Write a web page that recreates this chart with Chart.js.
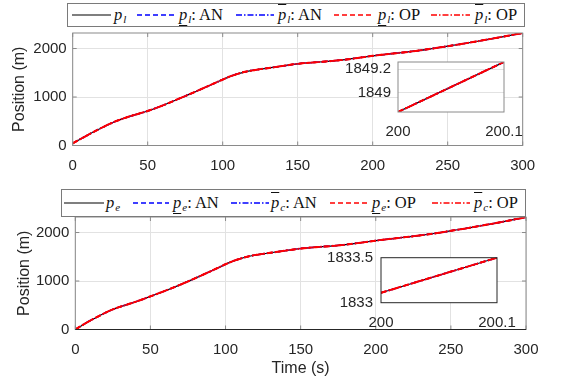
<!DOCTYPE html>
<html>
<head>
<meta charset="utf-8">
<script src="https://cdn.jsdelivr.net/npm/chart.js@4.4.1/dist/chart.umd.min.js"></script>
<style>
  body { margin: 0; background: #fff; width: 581px; height: 386px; position: relative; overflow: hidden; }
  canvas { position: absolute; }
  .legend { position: absolute; background: #fff; border: 1px solid #7a7a7a; box-sizing: border-box; z-index: 5; }
  .item { position: absolute; top: 0; height: 100%; display: flex; align-items: center; font-family: "Liberation Serif", "Times New Roman", serif; font-size: 16.5px; color: #111; white-space: nowrap; }
  .item sub { font-size: 11px; vertical-align: -3px; line-height: 0; margin-left: 1px; }
  .ul { text-decoration: underline; text-underline-offset: 5px; text-decoration-thickness: 1px; }
  .ol { text-decoration: overline; text-decoration-thickness: 1px; }
  .sample { position: absolute; top: 0; height: 100%; }
</style>
</head>
<body>
<div id="legendTop" class="legend" style="left:67px;top:3px;width:458px;height:24px"></div>
<div id="legendBottom" class="legend" style="left:61px;top:189px;width:465px;height:28px"></div>
<canvas id="topChart" width="581" height="185" style="left:0;top:0"></canvas>
<canvas id="bottomChart" width="581" height="196" style="left:0;top:190px"></canvas>
<canvas id="topInset" width="200" height="113" style="left:330px;top:42px;z-index:3"></canvas>
<canvas id="bottomInset" width="220" height="107" style="left:310px;top:238px;z-index:3"></canvas>
<script>
// data
const times = [0, 5, 10, 15, 20, 25, 30, 35, 40, 45, 50, 60, 70, 80, 90, 95, 100, 105, 110, 115, 120, 125,
  130, 140, 150, 160, 170, 180, 190, 200, 210, 220, 230, 240, 250, 260, 270, 280, 290, 300];
const posLeader = [45, 130, 215, 298, 375, 450, 515, 570, 620, 665, 712, 825, 955, 1085, 1222, 1290, 1360, 1425, 1478, 1520, 1550, 1573,
  1595, 1640, 1685, 1712, 1735, 1765, 1805, 1849, 1885, 1918, 1955, 2000, 2048, 2098, 2150, 2205, 2262, 2320];
const posEgo = [0, 95, 185, 265, 345, 415, 470, 520, 570, 625, 683, 800, 925, 1060, 1200, 1272, 1345, 1410, 1463, 1505, 1537, 1560,
  1583, 1627, 1670, 1698, 1720, 1750, 1790, 1833, 1870, 1905, 1942, 1985, 2035, 2085, 2140, 2195, 2255, 2315];
const xTicks = [0, 50, 100, 150, 200, 250, 300];
const yTicks = [0, 1000, 2000];

const insetTimes = [200, 200.1];
const insetLeader = [1848.84, 1849.26];
const insetEgo = [1833.11, 1833.5];
const insetLeaderTicks = [1849, 1849.2];
const insetEgoTicks = [1833, 1833.5];

const legendLeader = ['<i>p</i><sub><i>l</i></sub>',
  '<span class="ul"><i>p</i></span><sub><i>l</i></sub>: AN',
  '<span class="ol"><i>p</i></span><sub><i>l</i></sub>: AN',
  '<span class="ul"><i>p</i></span><sub><i>l</i></sub>: OP',
  '<span class="ol"><i>p</i></span><sub><i>l</i></sub>: OP'];
const legendEgo = ['<i>p</i><sub><i>e</i></sub>',
  '<span class="ul"><i>p</i></span><sub><i>e</i></sub>: AN',
  '<span class="ol"><i>p</i></span><sub><i>c</i></sub>: AN',
  '<span class="ul"><i>p</i></span><sub><i>e</i></sub>: OP',
  '<span class="ol"><i>p</i></span><sub><i>c</i></sub>: OP'];

const styles = [
  { color: '#000000', dash: [], width: 1.2, order: 5 },
  { color: '#0000ff', dash: [5, 3], width: 1.5, order: 4 },
  { color: '#0000ff', dash: [6, 2, 1.5, 2], width: 1.5, order: 3 },
  { color: '#ff0000', dash: [5, 3], width: 1.8, order: 2 },
  { color: '#ff0000', dash: [6, 2, 1.5, 2], width: 2, order: 1 }
];

function makeDatasets(xs, ys) {
  return styles.map(s => ({
    data: xs.map((x, i) => ({ x: x, y: ys[i] })),
    borderColor: s.color,
    borderDash: s.dash,
    borderWidth: s.width,
    pointRadius: 0,
    cubicInterpolationMode: 'monotone',
    order: s.order
  }));
}

function fmt(v) { return String(+Number(v).toFixed(1)); }

// legend boxes
function buildLegend(id, labels, samples, textX) {
  const box = document.getElementById(id);
  const h = box.clientHeight;
  labels.forEach((lab, i) => {
    const s = styles[i];
    const [x1, x2] = samples[i];
    const svg = document.createElementNS('http://www.w3.org/2000/svg', 'svg');
    svg.setAttribute('class', 'sample');
    svg.setAttribute('width', x2 - x1);
    svg.setAttribute('height', h);
    svg.style.left = x1 + 'px';
    const line = document.createElementNS('http://www.w3.org/2000/svg', 'line');
    line.setAttribute('x1', 0); line.setAttribute('x2', x2 - x1);
    line.setAttribute('y1', h / 2); line.setAttribute('y2', h / 2);
    line.setAttribute('stroke', s.color);
    line.setAttribute('stroke-width', Math.min(s.width, 1.5));
    if (s.dash.length) line.setAttribute('stroke-dasharray', s.dash.join(' '));
    svg.appendChild(line);
    box.appendChild(svg);
    const t = document.createElement('div');
    t.className = 'item';
    t.style.left = textX[i] + 'px';
    t.innerHTML = '<span>' + lab + '</span>';
    box.appendChild(t);
  });
}
buildLegend('legendTop', legendLeader,
  [[4, 43], [69, 108], [168, 206], [266, 305], [363, 402]], [46, 111, 210, 310, 407]);
buildLegend('legendBottom', legendEgo,
  [[2, 42], [71, 107], [169, 207], [268, 306], [370, 408]], [44, 111, 209, 310, 412]);

// axes box with inward ticks, drawn on top like matlab
function framePlugin(o) {
  return {
    id: 'frame',
    beforeDraw(chart) {
      if (!o.fill) return;
      const a = chart.chartArea, ctx = chart.ctx;
      ctx.save(); ctx.fillStyle = '#fff';
      ctx.fillRect(a.left, a.top, a.right - a.left, a.bottom - a.top);
      ctx.restore();
    },
    afterDraw(chart) {
      const a = chart.chartArea, ctx = chart.ctx;
      const xs = chart.scales.x, ys = chart.scales.y;
      ctx.save();
      ctx.lineWidth = 1;
      ctx.strokeStyle = o.color;
      ctx.beginPath();
      xs.ticks.forEach(t => {
        const px = xs.getPixelForValue(t.value);
        ctx.moveTo(px, a.bottom); ctx.lineTo(px, a.bottom - o.tick);
        ctx.moveTo(px, a.top); ctx.lineTo(px, a.top + o.tick);
      });
      ys.ticks.forEach(t => {
        const py = ys.getPixelForValue(t.value);
        ctx.moveTo(a.left, py); ctx.lineTo(a.left + o.tick, py);
        ctx.moveTo(a.right, py); ctx.lineTo(a.right - o.tick, py);
      });
      ctx.stroke();
      ctx.strokeRect(a.left, a.top, a.right - a.left, a.bottom - a.top);
      if (o.bottomColor) {
        ctx.strokeStyle = o.bottomColor;
        ctx.beginPath(); ctx.moveTo(a.left, a.bottom); ctx.lineTo(a.right, a.bottom); ctx.stroke();
      }
      ctx.restore();
    }
  };
}

const tickFont = { family: '"Liberation Sans", Arial, sans-serif', size: 15 };
const titleFont = { family: '"Liberation Sans", Arial, sans-serif', size: 16 };

function mainChart(id, ys, box) {
  return new Chart(document.getElementById(id), {
    type: 'line',
    data: { datasets: makeDatasets(times, ys) },
    options: {
      responsive: false,
      animation: false,
      devicePixelRatio: 1,
      layout: { padding: { left: 0, top: box.top, right: box.right, bottom: 0 } },
      plugins: { legend: { display: false }, tooltip: { enabled: false } },
      scales: {
        x: {
          type: 'linear', min: 0, max: 300,
          afterBuildTicks: s => { s.ticks = xTicks.map(v => ({ value: v })); },
          afterFit: s => { s.height = box.xh; },
          grid: { color: '#e2e2e2', drawTicks: false },
          border: { display: false },
          ticks: { font: tickFont, color: '#262626', padding: box.xpad, maxRotation: 0, callback: fmt },
          title: { display: !!box.xtitle, text: box.xtitle, font: titleFont, color: '#262626', padding: { top: 0, bottom: 8 } }
        },
        y: {
          type: 'linear', min: 0, max: 2320,
          afterBuildTicks: s => { s.ticks = yTicks.map(v => ({ value: v })); },
          afterFit: s => { s.width = box.left; },
          grid: { color: '#e2e2e2', drawTicks: false },
          border: { display: false },
          ticks: { font: tickFont, color: '#262626', padding: 6, callback: fmt },
          title: { display: true, text: 'Position (m)', font: titleFont, color: '#262626', padding: { top: box.ytpad, bottom: 0 } }
        }
      }
    },
    plugins: [framePlugin({ color: '#8a8a8a', bottomColor: box.bottomColor, tick: 4 })]
  });
}

mainChart('topChart', posLeader, { top: 33, right: 58.3, left: 72.7, xh: 39.5, xpad: 11, ytpad: 10 });
mainChart('bottomChart', posEgo, { top: 27, right: 55, left: 75.3, xh: 56.5, xpad: 11, ytpad: 14.5, xtitle: 'Time (s)', bottomColor: '#262626' });

function insetChart(id, ys, yt, box) {
  return new Chart(document.getElementById(id), {
    type: 'line',
    data: { datasets: makeDatasets(insetTimes, ys) },
    options: {
      responsive: false,
      animation: false,
      devicePixelRatio: 1,
      layout: { padding: { left: 0, top: box.top, right: box.right, bottom: 0 } },
      plugins: { legend: { display: false }, tooltip: { enabled: false } },
      scales: {
        x: {
          type: 'linear', min: insetTimes[0], max: insetTimes[1],
          afterBuildTicks: s => { s.ticks = insetTimes.map(v => ({ value: v })); },
          afterFit: s => { s.height = box.xh; },
          grid: { display: false },
          border: { display: false },
          ticks: { font: tickFont, color: '#262626', padding: box.xpad, maxRotation: 0, autoSkip: false, callback: fmt }
        },
        y: {
          type: 'linear', min: box.ymin, max: box.ymax,
          afterBuildTicks: s => { s.ticks = yt.map(v => ({ value: v })); },
          afterFit: s => { s.width = box.left; },
          grid: { display: box.grid, color: '#e2e2e2', drawTicks: false },
          border: { display: false },
          ticks: { font: tickFont, color: '#262626', padding: box.ypad, callback: fmt }
        }
      }
    },
    plugins: [framePlugin({ color: box.frame, tick: 0, fill: true })]
  });
}

insetChart('topInset', insetLeader, insetLeaderTicks,
  { top: 20, right: 26, left: 68, xh: 43, xpad: 3, ypad: 7, ymin: 1848.84, ymax: 1849.26, grid: true, frame: '#8a8a8a' });
insetChart('bottomInset', insetEgo, insetEgoTicks,
  { top: 19.7, right: 33, left: 71, xh: 42.3, xpad: 3, ypad: 8, ymin: 1833, ymax: 1833.5, grid: false, frame: '#262626' });
</script>
</body>
</html>
